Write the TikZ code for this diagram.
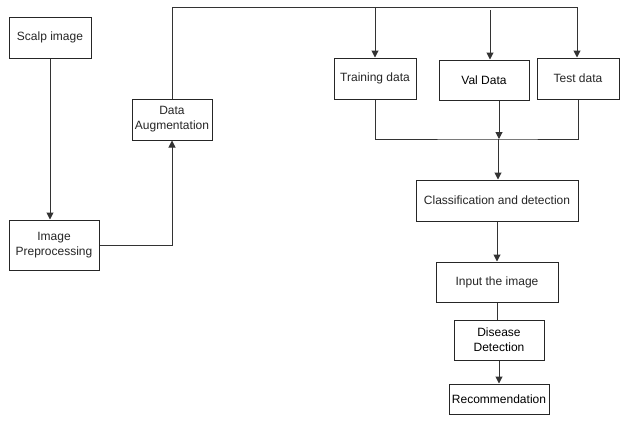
\documentclass[tikz,border=0pt]{standalone}
\usepackage{fontspec}
\setmainfont{Liberation Sans}
\usetikzlibrary{arrows.meta}
\begin{document}
\begin{tikzpicture}[x=1pt,y=-1pt,
  box/.style={draw=black!85,line width=1pt,rectangle,inner sep=0pt,align=center,
    font=\fontsize{12}{15}\selectfont,text=black!85},
  conn/.style={draw=black!80,line width=1pt},
  arr/.style={conn,-{Triangle[length=7pt,width=7pt]}}]
\useasboundingbox[fill=white] (0,0) rectangle (627,424);
\node[box,minimum width=82,minimum height=41] (scalp) at (50,37.5) {Scalp image};
\node[box,minimum width=90,minimum height=50] (pre) at (54,245) {Image\\Preprocessing};
\node[box,minimum width=80,minimum height=41] (aug) at (172,119.5) {Data\\Augmentation};
\node[box,minimum width=82,minimum height=41] (train) at (375,78.5) {Training data};
\node[box,minimum width=90,minimum height=40,text=black] (val) at (484,80) {Val Data};
\node[box,minimum width=82,minimum height=41] (test) at (578,78.5) {Test data};
\node[box,minimum width=162,minimum height=41] (cls) at (497,200.5) {Classification and detection};
\node[box,minimum width=122,minimum height=40] (inp) at (497,282) {Input the image};
\node[box,minimum width=90,minimum height=40,text=black] (dis) at (499,340) {Disease\\Detection};
\node[box,minimum width=100,minimum height=30,text=black] (rec) at (499,399) {Recommendation};
\coordinate (ttrain) at (375,7);
\coordinate (tval) at (490,10);
\coordinate (ttest) at (577,7);
\coordinate (merge) at (498,139);
\draw[arr] (scalp.south) -- (scalp.south |- pre.north);
\draw[arr] (pre.east) -| (aug.south);
\draw[arr] (aug.north) |- (ttest) -- (ttest |- test.north);
\draw[arr] (ttrain) -- (ttrain |- train.north);
\draw[arr] (tval) -- (tval |- val.north);
\draw[conn] (train.south) |- (merge) -| (test.south);
\draw[arr] (val.south -| 499,0) -- (499,139);
\draw[arr] (merge) -- (merge |- cls.north);
\draw[arr] (cls.south) -- (inp.north);
\draw[conn] (inp.south) -- (inp.south |- dis.north);
\draw[arr] (dis.south) -- (rec.north);
\end{tikzpicture}
\end{document}
